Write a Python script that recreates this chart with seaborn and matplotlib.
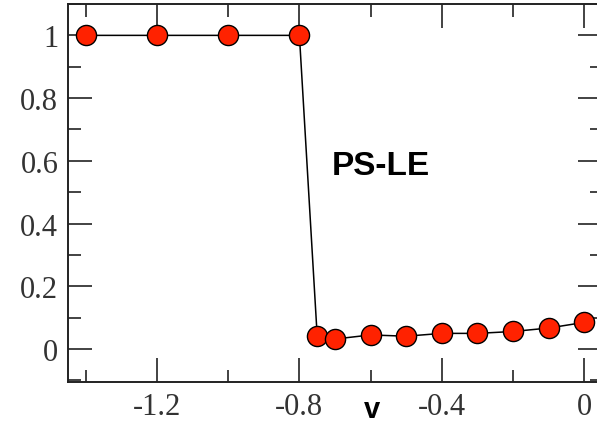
import matplotlib
matplotlib.use("Agg")
import matplotlib.pyplot as plt
import seaborn as sns
import pandas as pd
from matplotlib.ticker import MultipleLocator

v = [-1.4, -1.2, -1.0, -0.8, -0.75, -0.7, -0.6, -0.5, -0.4, -0.3, -0.2, -0.1, 0.0]
val = [1.0, 1.0, 1.0, 1.0, 0.041, 0.032, 0.045, 0.041, 0.05, 0.05, 0.056, 0.067, 0.085]
xticks = [-1.2, -0.8, -0.4, 0.0]
xticklabels = ["-1.2", "-0.8", "-0.4", "0"]
yticks = [0, 0.2, 0.4, 0.6, 0.8, 1.0]
yticklabels = ["0", "0.2", "0.4", "0.6", "0.8", "1"]

df = pd.DataFrame({"v": v, "val": val})

sns.set_style("white")
plt.rcParams["font.family"] = ["Liberation Serif", "DejaVu Serif"]

fig = plt.figure(figsize=(5.97, 4.31), dpi=100)
ax = fig.add_axes([68/597, 48/431, 534/597, 378/431])

sns.lineplot(data=df, x="v", y="val", ax=ax, color="black", linewidth=1.1,
             marker="o", markersize=14.5, markerfacecolor="#ff2200",
             markeredgecolor="black", markeredgewidth=1.0, sort=False)

ax.set_xlim(-1.45, 0.05)
ax.set_ylim(-0.105, 1.1)
ax.set_xticks(xticks)
ax.set_xticklabels(xticklabels)
ax.set_yticks(yticks)
ax.set_yticklabels(yticklabels)
ax.xaxis.set_minor_locator(MultipleLocator(0.2))
ax.yaxis.set_minor_locator(MultipleLocator(0.1))
ax.tick_params(which="both", direction="in", top=True, right=True, bottom=True, left=True,
               color="#222222", width=1.2, labelsize=22, labelcolor="#333333")
ax.tick_params(which="major", length=17, pad=7)
ax.tick_params(which="minor", length=9)
for s in ax.spines.values():
    s.set_color("#222222")
    s.set_linewidth(1.4)
    s.set_visible(True)

ax.set_xlabel("")
ax.set_ylabel("")
ax.text(-0.597, -0.19, "v", fontsize=21, fontweight="bold", family="Liberation Sans",
        color="black", ha="center", va="center", clip_on=False)
ax.text(-0.572, 0.585, "PS-LE", fontsize=24, fontweight="bold", family="Liberation Sans",
        color="black", ha="center", va="center")

fig.savefig("out.png", dpi=100)
